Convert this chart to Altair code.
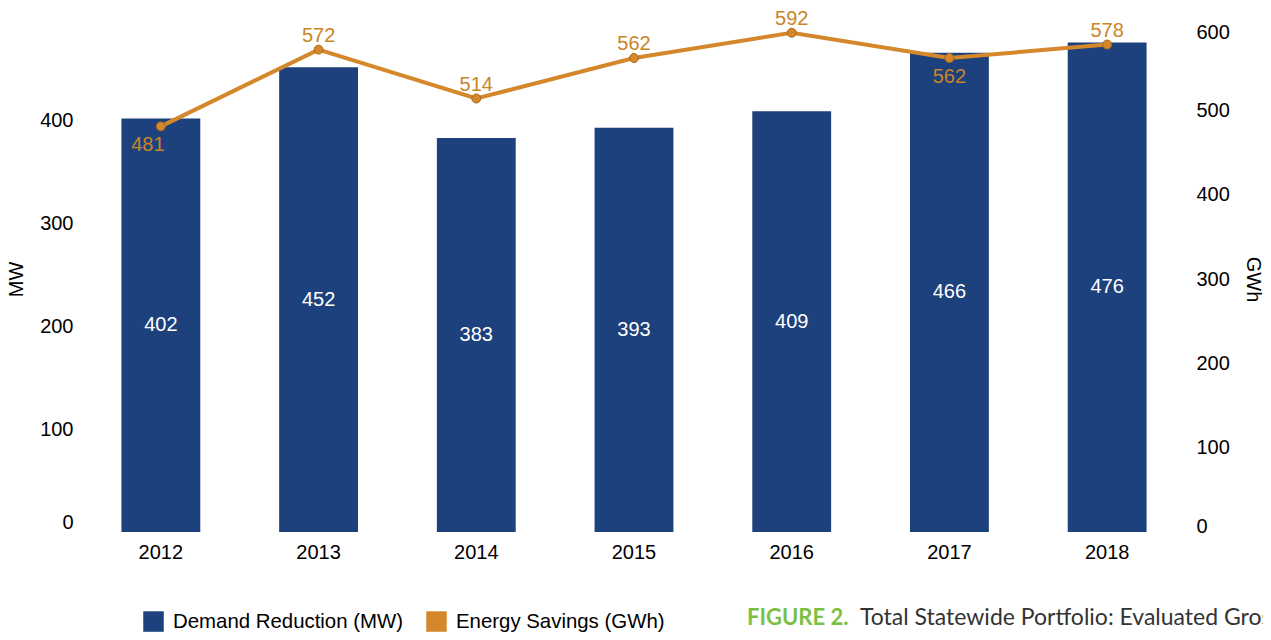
import altair as alt
import pandas as pd

years = ["2012", "2013", "2014", "2015", "2016", "2017", "2018"]
demand_mw = [402, 452, 383, 393, 409, 466, 476]
energy_gwh = [481, 572, 514, 562, 592, 562, 578]
below_years = ["2012", "2017"]
series_names = ["Demand Reduction (MW)", "Energy Savings (GWh)"]
left_ticks = [0, 100, 200, 300, 400]
right_ticks = [0, 100, 200, 300, 400, 500, 600]
caption_label = "FIGURE 2."
caption_text = "Total Statewide Portfolio: Evaluated Gross Savings"

BLUE = "#1d417d"
ORANGE = "#d4882b"
ORANGE_TXT = "#c98526"
FONT = "Liberation Sans"

df = pd.DataFrame({"year": years, "mw": demand_mw, "gwh": energy_gwh})

x_enc = alt.X(
    "year:N",
    scale=alt.Scale(paddingInner=0.5, paddingOuter=0.25),
    axis=alt.Axis(title=None, labelAngle=0, labelPadding=10, labelFontSize=20,
                  labelColor="#000", domain=False, ticks=False),
)

color_scale = alt.Scale(domain=series_names, range=[BLUE, ORANGE])
legend = alt.Legend(title=None, orient="none", legendX=61, legendY=585,
                    direction="horizontal", symbolType="square",
                    symbolSize=420, symbolStrokeWidth=0,
                    labelFontSize=20.4, labelFont=FONT, labelColor="#000",
                    labelLimit=500, labelOffset=9, columnPadding=22, padding=0)

left_axis = alt.Axis(title="MW", orient="left", values=left_ticks, labelFlush=True,
                     labelPadding=9, titlePadding=13, labelFontSize=20, titleFontSize=20,
                     titleFontWeight="normal", labelColor="#000", titleColor="#000",
                     domain=False, ticks=False, grid=False)
right_axis = alt.Axis(title="GWh", orient="right", values=right_ticks, labelFlush=True,
                      labelFlushOffset=4, labelPadding=10, titlePadding=13, labelFontSize=20,
                      titleFontSize=20, titleFontWeight="normal", labelColor="#000",
                      titleColor="#000", domain=False, ticks=False, grid=False)

y_left_scale = alt.Scale(domain=[0, 492], nice=False)
y_right_scale = alt.Scale(domain=[0, 600], nice=False)

base = alt.Chart(df)

bars = base.transform_calculate(series=f"'{series_names[0]}'").mark_bar().encode(
    x=x_enc,
    y=alt.Y("mw:Q", scale=y_left_scale, axis=left_axis),
    color=alt.Color("series:N", scale=color_scale, legend=legend),
)
bar_labels = base.transform_calculate(mid="datum.mw / 2").mark_text(
    color="white", fontSize=20, baseline="middle"
).encode(
    x=x_enc,
    y=alt.Y("mid:Q", scale=y_left_scale, axis=left_axis),
    text=alt.Text("mw:Q"),
)
left = alt.layer(bars, bar_labels)

line = base.transform_calculate(series=f"'{series_names[1]}'").mark_line(strokeWidth=4).encode(
    x=x_enc,
    y=alt.Y("gwh:Q", scale=y_right_scale, axis=right_axis),
    color=alt.Color("series:N", scale=color_scale, legend=legend),
)
points = base.mark_point(filled=True, size=80, color=ORANGE, stroke="#a8691c",
                         strokeWidth=1, opacity=1).encode(
    x=x_enc,
    y=alt.Y("gwh:Q", scale=y_right_scale, axis=right_axis),
)
lab_above = base.transform_filter(
    ~alt.FieldOneOfPredicate(field="year", oneOf=below_years)
).mark_text(color=ORANGE_TXT, fontSize=20, baseline="middle", dy=-14).encode(
    x=x_enc,
    y=alt.Y("gwh:Q", scale=y_right_scale, axis=right_axis),
    text="gwh:Q",
)
lab_below_2012 = base.transform_filter(
    alt.FieldEqualPredicate(field="year", equal=below_years[0])
).mark_text(color=ORANGE_TXT, fontSize=20, baseline="middle", dy=19, dx=-13).encode(
    x=x_enc,
    y=alt.Y("gwh:Q", scale=y_right_scale, axis=right_axis),
    text="gwh:Q",
)
lab_below_2017 = base.transform_filter(
    alt.FieldEqualPredicate(field="year", equal=below_years[1])
).mark_text(color=ORANGE_TXT, fontSize=20, baseline="middle", dy=19).encode(
    x=x_enc,
    y=alt.Y("gwh:Q", scale=y_right_scale, axis=right_axis),
    text="gwh:Q",
)
right = alt.layer(line, points, lab_above, lab_below_2012, lab_below_2017)

cap_df = pd.DataFrame({"a": [caption_label], "b": [caption_text]})
cap1 = alt.Chart(cap_df).mark_text(align="left", baseline="middle", font="Lato",
                                   fontSize=22, fontWeight="bold", color="#7ac143").encode(
    x=alt.value(665), y=alt.value(592), text="a:N")
cap2 = alt.Chart(cap_df).mark_text(align="left", baseline="middle", font="Lato",
                                   fontSize=23, color="#333333").encode(
    x=alt.value(778), y=alt.value(592), text="b:N")

chart = alt.layer(left, right, cap1, cap2).resolve_scale(y="independent").properties(
    width=1104, height=506,
    autosize=alt.AutoSizeParams(type="none"),
    padding={"left": 74, "top": 18, "right": 77, "bottom": 100},
).configure(font=FONT).configure_view(stroke=None)

chart.save("out.html", embed_options={"renderer": "svg", "actions": False})
